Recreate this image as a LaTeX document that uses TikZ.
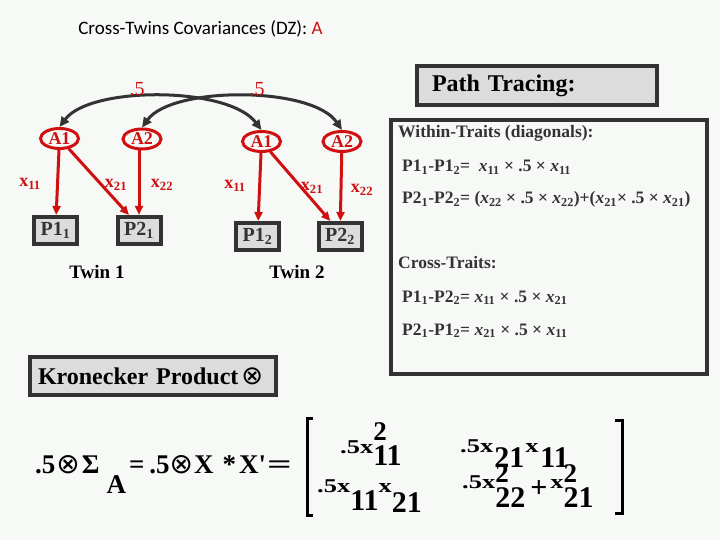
\documentclass[tikz,border=0pt]{standalone}
\usepackage{fontspec}
\usepackage{graphicx}
\setmainfont{Liberation Serif}
\newfontfamily\titlefont{Carlito}
\newfontfamily\symfont{DejaVu Sans}
\usetikzlibrary{arrows.meta,shapes.geometric}
\definecolor{bgc}{RGB}{247,249,247}
\definecolor{myred}{RGB}{208,16,16}
\definecolor{dk}{RGB}{51,51,51}
\definecolor{boxg}{RGB}{220,220,220}
\newcommand{\fs}[1]{\fontsize{#1}{#1}\selectfont}
\newcommand{\mainM}[1]{\scalebox{1.15}[0.85]{\fs{23}#1}}
\newcommand{\subM}[1]{{\fs{30}#1}}
\newcommand{\supM}[1]{{\fs{27}#1}}
\begin{document}
\begin{tikzpicture}[x=1pt,y=-1pt,
  lat/.style={ellipse,draw=myred,line width=3pt,inner sep=0pt,minimum width=38pt,minimum height=20pt,text=myred,font=\bfseries\fs{18}},
  obs/.style={rectangle,draw=dk,line width=4pt,fill=boxg,minimum width=43pt,minimum height=27pt,inner sep=0pt,text=dk,font=\bfseries\fs{20}},
  ld/.style={draw=myred,line width=3pt,-{Triangle[length=9pt,width=8pt]}},
  cov/.style={draw=dk,line width=3pt,{Triangle[length=10pt,width=9pt]}-{Triangle[length=10pt,width=9pt]}},
  lbl/.style={text=myred,font=\bfseries\fs{18},inner sep=0pt},
  half/.style={text=myred,font=\fs{20},inner sep=0pt},
  twin/.style={anchor=base,font=\bfseries\fs{19}},
  txt/.style={anchor=base west,inner sep=0pt,text=dk,font=\bfseries\fs{17.5}},
  graybox/.style={draw=dk,line width=4pt,fill=boxg,inner ysep=0pt},
  ent/.style={anchor=base west,inner sep=0pt,font=\bfseries},
  brk/.style={draw=black,line width=3pt}
]
\fill[bgc] (0,0) rectangle (720,540);
\useasboundingbox (0,0) rectangle (720,540);

% title
\node[anchor=base,font=\titlefont\fs{19}] (title) at (200.5,35) {Cross-Twins Covariances (DZ): \textcolor{myred}{A}};

% latent factors
\node[lat] (a1) at (59.5,138.5) {A1};
\node[lat] (a2) at (142,139) {A2};
\node[lat] (b1) at (261.5,141.5) {A1};
\node[lat] (b2) at (342,141.5) {A2};

% observed
\node[obs] (p11) at (55.5,230.5) {P1\textsubscript{1}};
\node[obs] (p21) at (139,230.5) {P2\textsubscript{1}};
\node[obs] (p12) at (257.5,236.5) {P1\textsubscript{2}};
\node[obs] (p22) at (340,236.5) {P2\textsubscript{2}};

% loadings
\draw[ld] (a1) -- (p11);
\draw[ld] (a1) -- (p21.123);
\draw[ld] (a2.south -| p21.north) -- (p21.north);
\draw[ld] (b1) -- (p12);
\draw[ld] (b1) -- (p22.122);
\draw[ld] (b2) -- (p22);

\node[lbl] (l1) at (30,184) {x\textsubscript{11}};
\node[lbl] (l2) at (116,185) {x\textsubscript{21}};
\node[lbl] (l3) at (162,185) {x\textsubscript{22}};
\node[lbl] (l4) at (235,186) {x\textsubscript{11}};
\node[lbl] (l5) at (312,188) {x\textsubscript{21}};
\node[lbl] (l6) at (362,190) {x\textsubscript{22}};

% cross-twin covariances
\draw[cov] (a1.north) .. controls (90,86) and (228,86) .. (b1.north);
\draw[cov] (a2.north) .. controls (172,86) and (312,86) .. (b2.north);
\node[half] (h1) at (137,89) {.5};
\node[half] (h2) at (257,89) {.5};

\node[twin] (t1) at (97,278) {Twin 1};
\node[twin] (t2) at (297,278) {Twin 2};

% path tracing
\node[graybox,minimum width=240pt,minimum height=39pt,inner xsep=15pt,text width=210pt,align=left,font=\bfseries\fs{24}] (ptb) at (537,85.5) {Path Tracing:};
\node[draw=dk,line width=3.5pt,minimum width=316pt,minimum height=254pt,inner sep=0pt] (pt) at (549,247) {};
\node[txt] (w) at (398,138) {Within-Traits (diagonals):};
\node[txt] (e1) at (402,172) {P1\textsubscript{1}-P1\textsubscript{2}= \ \textit{x}\textsubscript{11} × .5 × \textit{x}\textsubscript{11}};
\node[txt] (e2) at (402,204) {P2\textsubscript{1}-P2\textsubscript{2}= (\textit{x}\textsubscript{22} × .5 × \textit{x}\textsubscript{22})+(\textit{x}\textsubscript{21}× .5 × \textit{x}\textsubscript{21})};
\node[txt] (c) at (398,268) {Cross-Traits:};
\node[txt] (e3) at (402,302) {P1\textsubscript{1}-P2\textsubscript{2}= \textit{x}\textsubscript{11} × .5 × \textit{x}\textsubscript{21}};
\node[txt] (e4) at (402,335) {P2\textsubscript{1}-P1\textsubscript{2}= \textit{x}\textsubscript{21} × .5 × \textit{x}\textsubscript{11}};

% Kronecker
\node[graybox,minimum width=246pt,minimum height=38pt,inner xsep=8pt,text width=230pt,align=left,font=\bfseries\fs{24}] (kp) at (153,376) {Kronecker Product\hspace{3pt}{\symfont\mdseries\fs{26}⊗}};

% formula
\node[anchor=base west,inner sep=0pt,font=\bfseries\fs{27}] (lhs) at (35,473) {.5\hspace{1pt}{\symfont\mdseries\fs{28}⊗}\hspace{2pt}Σ\hspace{7pt}\raisebox{-20pt}{A}\hspace{3pt}=\hspace{5pt}.5{\symfont\mdseries\fs{28}⊗}\hspace{1pt}X\hspace{9pt}*\hspace{3pt}X\textquotesingle\hspace{1pt}\scalebox{1.6}[1]{=}};
\coordinate (lt) at (313,418);
\coordinate (lb) at (313,515);
\coordinate (rt) at (615,420);
\coordinate (rb) at (615,513);
\draw[brk] (lt) -- ++(-6,0) |- (lb);
\draw[brk] (rt) -- ++(7,0) |- (rb);

\node[ent] (m11) at (340,453) {\mainM{.5x}\rlap{\raisebox{13pt}{\supM{2}}}\raisebox{-12pt}{\subM{11}}};
\node[ent] (m12) at (460,452) {\mainM{.5x}\hspace{1pt}\raisebox{-15pt}{\subM{21}}\hspace{1pt}\mainM{x}\hspace{2pt}\raisebox{-15pt}{\subM{11}}};
\node[ent] (m21) at (317,492) {\mainM{.5x}\raisebox{-18pt}{\subM{11}}\mainM{x}\raisebox{-20pt}{\subM{21}}};
\node[ent] (m22) at (462,488) {\mainM{.5x}\rlap{\raisebox{6pt}{\supM{2}}}\raisebox{-19pt}{\subM{22}}\hspace{5pt}\raisebox{-9pt}{\fs{30}+}\hspace{3pt}\mainM{x}\rlap{\raisebox{6pt}{\supM{2}}}\raisebox{-19pt}{\subM{21}}};
\end{tikzpicture}
\end{document}
